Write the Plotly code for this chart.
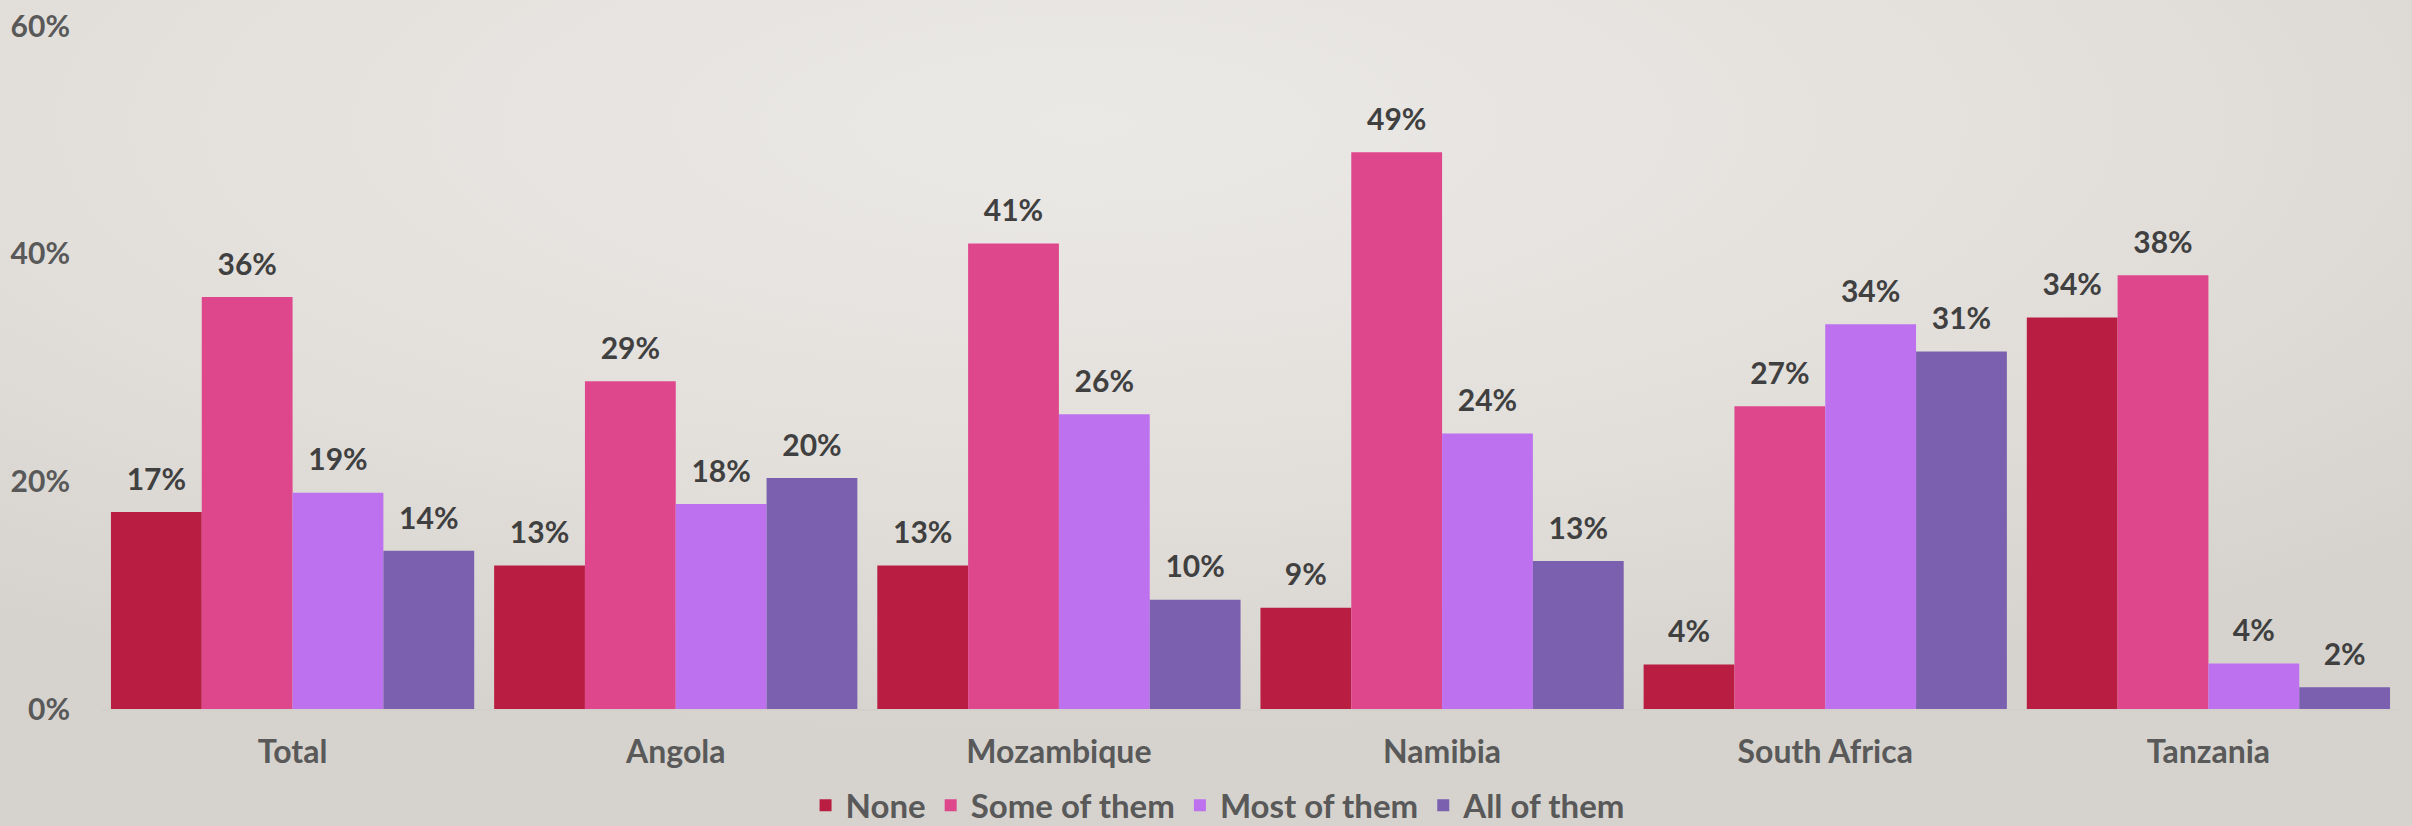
import base64

import plotly.graph_objects as go

# Share of respondents, by country
countries = ["Total", "Angola", "Mozambique", "Namibia", "South Africa", "Tanzania"]
series_names = ["None", "Some of them", "Most of them", "All of them"]
none_vals = [17.3, 12.6, 12.6, 8.9, 3.9, 34.4]
some_vals = [36.2, 28.8, 40.9, 48.9, 26.6, 38.1]
most_vals = [19.0, 18.0, 25.9, 24.2, 33.8, 4.0]
all_vals = [13.9, 20.3, 9.6, 13.0, 31.4, 1.9]
y_ticks = [0, 20, 40, 60]
y_tick_labels = ["0%", "20%", "40%", "60%"]

colors = ["#B91D42", "#DF478D", "#BD71EE", "#7A60AE"]
FONT = "Lato"
W, H = 2412, 826
M = dict(l=101, r=12, t=26, b=117)
GAP = 0.052

# soft slide-style background: light centre, darker edges
bg_svg = (
    '<svg xmlns="http://www.w3.org/2000/svg" width="100" height="100" preserveAspectRatio="none">'
    '<defs><radialGradient id="g" cx="0.45" cy="0.15" r="0.75">'
    '<stop offset="0" stop-color="#EBE9E6"/><stop offset="0.6" stop-color="#E2DFDB"/>'
    '<stop offset="1" stop-color="#D6D3CE"/></radialGradient></defs>'
    '<rect width="100" height="100" fill="url(#g)"/></svg>'
)
bg_uri = "data:image/svg+xml;base64," + base64.b64encode(bg_svg.encode()).decode()
pw, ph = W - M["l"] - M["r"], H - M["t"] - M["b"]

fig = go.Figure()
for name, vals, col in zip(series_names, [none_vals, some_vals, most_vals, all_vals], colors):
    fig.add_trace(go.Bar(
        x=countries, y=vals, name=name, offsetgroup=name,
        marker=dict(color=col, line=dict(width=0)),
        hovertemplate=name + ": %{y:.0f}%<extra></extra>",
    ))
# value labels sit a little higher above the bars than plotly's bar text does
for name, vals in zip(series_names, [none_vals, some_vals, most_vals, all_vals]):
    fig.add_trace(go.Scatter(
        x=countries, y=vals, offsetgroup=name, mode="markers+text",
        marker=dict(size=22, color="rgba(0,0,0,0)"),
        texttemplate="%{y:.0f}%", textposition="top center",
        textfont=dict(family=FONT, size=30, color="#404040", weight="bold"),
        showlegend=False, hoverinfo="skip", cliponaxis=False,
    ))

fig.update_layout(
    width=W, height=H,
    barmode="group", bargap=GAP, bargroupgap=0,
    scattermode="group", scattergap=GAP,
    paper_bgcolor="#E2DFDB", plot_bgcolor="rgba(0,0,0,0)",
    margin=M,
    font=dict(family=FONT, size=30, color="#595959", weight="bold"),
    legend=dict(
        orientation="h", xref="container", yref="container",
        x=0.505, xanchor="center", y=0.025, yanchor="middle",
        bgcolor="rgba(0,0,0,0)",
        font=dict(family=FONT, size=33, color="#595959", weight="bold"),
        itemwidth=30, tracegroupgap=0,
    ),
    images=[dict(
        source=bg_uri, xref="paper", yref="paper",
        x=-M["l"] / pw, y=1 + M["t"] / ph, sizex=W / pw, sizey=H / ph,
        xanchor="left", yanchor="top", sizing="stretch", layer="below",
    )],
)
fig.update_xaxes(
    showgrid=False, showline=True, linecolor="#D3D0CC", linewidth=2,
    ticks="", ticklabelstandoff=14, automargin=False,
    tickfont=dict(family=FONT, size=32, color="#595959", weight="bold"),
)
fig.update_yaxes(
    range=[0, 60], tickvals=y_ticks, ticktext=y_tick_labels,
    showgrid=False, zeroline=False, showline=False, ticks="",
    ticklabelstandoff=30, automargin=False,
    tickfont=dict(family=FONT, size=30, color="#595959", weight="bold"),
)

fig.write_html(
    "out.html",
    config={"displayModeBar": False},
    post_script="document.body.style.margin='0';",
)
